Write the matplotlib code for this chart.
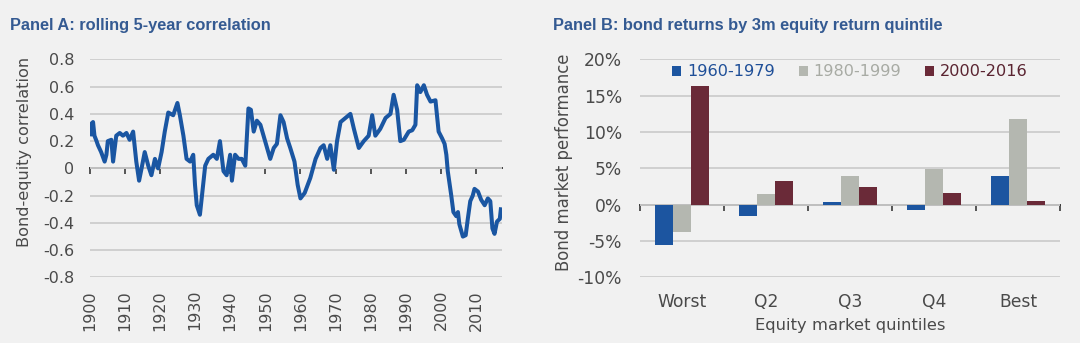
import matplotlib
matplotlib.use("Agg")
import matplotlib.pyplot as plt
from matplotlib.patches import Patch
import numpy as np

# ---------------- data ----------------
corr_years = [1900.3, 1900.6, 1901.0, 1901.4, 1902.0, 1902.4, 1903.3, 1904.3, 1904.8, 1905.2,
              1906.2, 1906.7, 1907.6, 1908.6, 1909.5, 1910.5, 1911.4, 1912.4, 1913.3, 1914.1,
              1914.8, 1915.7, 1916.7, 1917.6, 1918.6, 1919.5, 1920.5, 1921.4, 1922.4, 1923.8,
              1925.0, 1925.7, 1926.7, 1927.6, 1928.6, 1929.5, 1930.0, 1930.5, 1931.4, 1931.9,
              1932.9, 1933.8, 1935.2, 1936.2, 1937.1, 1938.1, 1939.0, 1940.0, 1940.5, 1941.4,
              1942.4, 1943.3, 1944.3, 1945.2, 1945.9, 1946.7, 1947.6, 1948.6, 1949.5, 1950.5,
              1951.4, 1952.4, 1953.3, 1954.3, 1955.2, 1956.2, 1957.1, 1958.3, 1959.2, 1960.0,
              1961.2, 1962.8, 1964.3, 1965.7, 1966.6, 1967.6, 1968.5, 1969.5, 1970.4, 1971.4,
              1972.8, 1974.2, 1975.2, 1976.6, 1978.0, 1979.4, 1980.4, 1981.3, 1982.7, 1984.2,
              1985.6, 1986.5, 1987.5, 1988.4, 1989.4, 1990.8, 1991.8, 1992.7, 1993.2, 1994.1,
              1995.1, 1996.0, 1997.0, 1998.4, 1999.3, 2000.3, 2001.0, 2001.5, 2001.9, 2002.9,
              2003.5, 2004.3, 2004.8, 2005.2, 2006.2, 2007.0, 2007.6, 2008.3, 2009.0, 2009.5,
              2010.5, 2011.4, 2012.4, 2013.3, 2014.0, 2014.6, 2015.2, 2015.9, 2016.7, 2017.0]
corr_values = [0.25, 0.33, 0.34, 0.24, 0.20, 0.17, 0.12, 0.05, 0.10, 0.20,
               0.21, 0.05, 0.24, 0.26, 0.24, 0.26, 0.21, 0.27, 0.05, -0.09,
               0.00, 0.12, 0.02, -0.05, 0.07, 0.00, 0.12, 0.27, 0.41, 0.39,
               0.48, 0.39, 0.24, 0.07, 0.05, 0.10, -0.12, -0.27, -0.34, -0.22,
               0.02, 0.07, 0.10, 0.07, 0.20, -0.02, -0.05, 0.10, -0.09, 0.10,
               0.07, 0.07, 0.02, 0.44, 0.43, 0.27, 0.35, 0.32, 0.24, 0.15,
               0.07, 0.15, 0.18, 0.39, 0.34, 0.22, 0.15, 0.05, -0.12, -0.22,
               -0.18, -0.07, 0.07, 0.15, 0.17, 0.07, 0.17, -0.01, 0.20, 0.34,
               0.37, 0.40, 0.29, 0.15, 0.20, 0.24, 0.39, 0.24, 0.29, 0.37,
               0.40, 0.54, 0.43, 0.20, 0.21, 0.27, 0.28, 0.32, 0.61, 0.56,
               0.61, 0.54, 0.49, 0.50, 0.27, 0.22, 0.18, 0.10, -0.02, -0.20,
               -0.32, -0.35, -0.32, -0.41, -0.50, -0.49, -0.37, -0.24, -0.20, -0.15,
               -0.17, -0.23, -0.27, -0.22, -0.24, -0.44, -0.48, -0.39, -0.37, -0.30]

decade_ticks = [1900, 1910, 1920, 1930, 1940, 1950, 1960, 1970, 1980, 1990, 2000, 2010]
corr_ticks = [0.8, 0.6, 0.4, 0.2, 0.0, -0.2, -0.4, -0.6, -0.8]
corr_tick_labels = ["0.8", "0.6", "0.4", "0.2", "0", "-0.2", "-0.4", "-0.6", "-0.8"]

quintiles = ["Worst", "Q2", "Q3", "Q4", "Best"]
periods = ["1960-1979", "1980-1999", "2000-2016"]
ret_1960_1979 = [-5.6, -1.6, 0.35, -0.7, 3.9]
ret_1980_1999 = [-3.7, 1.5, 4.0, 4.9, 11.8]
ret_2000_2016 = [16.3, 3.3, 2.5, 1.6, 0.5]
pct_ticks = [20, 15, 10, 5, 0, -5, -10]
pct_tick_labels = ["20%", "15%", "10%", "5%", "0%", "-5%", "-10%"]

# ---------------- style ----------------
BG = "#f1f1f1"
TXT = "#4a4a4a"
TITLE = "#345a92"
GRID = "#cdcdcd"
AXIS = "#3a3a3a"
LINE_BLUE = "#1a56a2"
colors = ["#1c55a0", "#b4b7b0", "#6a2a38"]
legend_text_colors = ["#1f4f98", "#a8aba4", "#5a2431"]

plt.rcParams["font.family"] = ["DejaVu Sans"]

fig = plt.figure(figsize=(10.8, 3.43), dpi=100, facecolor=BG)

# ---------------- Panel A ----------------
axA = fig.add_axes([0.0829, 0.191, 0.3815, 0.636], facecolor=BG)
axA.plot(corr_years, corr_values, color=LINE_BLUE, lw=2.9, zorder=3, solid_joinstyle="round")
axA.set_xlim(1900, 2017.2)
axA.set_ylim(-0.8, 0.8)
axA.set_yticks(corr_ticks)
axA.set_yticklabels(corr_tick_labels)
axA.set_xticks(decade_ticks)
axA.set_xticklabels([str(t) for t in decade_ticks], rotation=90)
axA.yaxis.grid(True, color=GRID, lw=1.3, zorder=0)
axA.set_axisbelow(True)
for s in axA.spines.values():
    s.set_visible(False)
axA.tick_params(axis="y", length=0, pad=11, labelsize=11.5, labelcolor=TXT)
axA.tick_params(axis="x", length=0, pad=9, labelsize=11.5, labelcolor=TXT)
axA.set_ylabel("Bond-equity correlation", fontsize=11.6, color=TXT)
axA.yaxis.set_label_coords(-0.140, 0.577)

secA = axA.secondary_xaxis(0, transform=axA.transData)
secA.set_xticks(decade_ticks)
secA.tick_params(axis="x", length=4, width=1.2, color=AXIS, labelbottom=False, labeltop=False)
secA.spines["bottom"].set_color(AXIS)
secA.spines["bottom"].set_linewidth(1.4)

fig.text(10 / 1080, 1 - 30 / 343, "Panel A: rolling 5-year correlation",
         fontfamily="Liberation Sans", fontweight="bold", fontsize=11.8, color=TITLE, va="baseline")

# ---------------- Panel B ----------------
axB = fig.add_axes([0.5926, 0.191, 0.3889, 0.636], facecolor=BG)
x = np.arange(len(quintiles))
w = 0.218
series = [ret_1960_1979, ret_1980_1999, ret_2000_2016]
for i, (vals, c) in enumerate(zip(series, colors)):
    axB.bar(x + (i - 1) * w, vals, width=w, color=c, zorder=3, label=periods[i])
axB.set_xlim(-0.5, len(quintiles) - 0.5)
axB.set_ylim(-10, 20)
axB.set_yticks(pct_ticks)
axB.set_yticklabels(pct_tick_labels)
axB.set_xticks(x)
axB.set_xticklabels(quintiles)
axB.yaxis.grid(True, color=GRID, lw=1.3, zorder=0)
axB.set_axisbelow(True)
for s in axB.spines.values():
    s.set_visible(False)
axB.tick_params(axis="y", length=0, pad=13, labelsize=12.3, labelcolor=TXT)
axB.tick_params(axis="x", length=0, pad=11, labelsize=12.3, labelcolor=TXT)
axB.set_ylabel("Bond market performance", fontsize=11.9, color=TXT)
axB.yaxis.set_label_coords(-0.159, 0.527)
axB.set_xlabel("Equity market quintiles", fontsize=11.8, color=TXT, labelpad=5)

secB = axB.secondary_xaxis(0, transform=axB.transData)
secB.set_xticks(np.arange(-0.5, len(quintiles) + 0.5, 1.0))
secB.tick_params(axis="x", length=4, width=1.2, color=AXIS, labelbottom=False, labeltop=False)
secB.spines["bottom"].set_color(AXIS)
secB.spines["bottom"].set_linewidth(1.4)

handles = [Patch(facecolor=c, edgecolor="none") for c in colors]
leg = axB.legend(handles, periods, ncol=3, loc="center", bbox_to_anchor=(0.5, 0.942),
                 frameon=False, fontsize=11.6, handlelength=0.55, handleheight=0.55,
                 handletextpad=0.35, columnspacing=1.5, borderaxespad=0)
for t, c in zip(leg.get_texts(), legend_text_colors):
    t.set_color(c)

fig.text(553 / 1080, 1 - 30 / 343, "Panel B: bond returns by 3m equity return quintile",
         fontfamily="Liberation Sans", fontweight="bold", fontsize=11.8, color=TITLE, va="baseline")

fig.savefig("out.png", dpi=100, facecolor=BG)
